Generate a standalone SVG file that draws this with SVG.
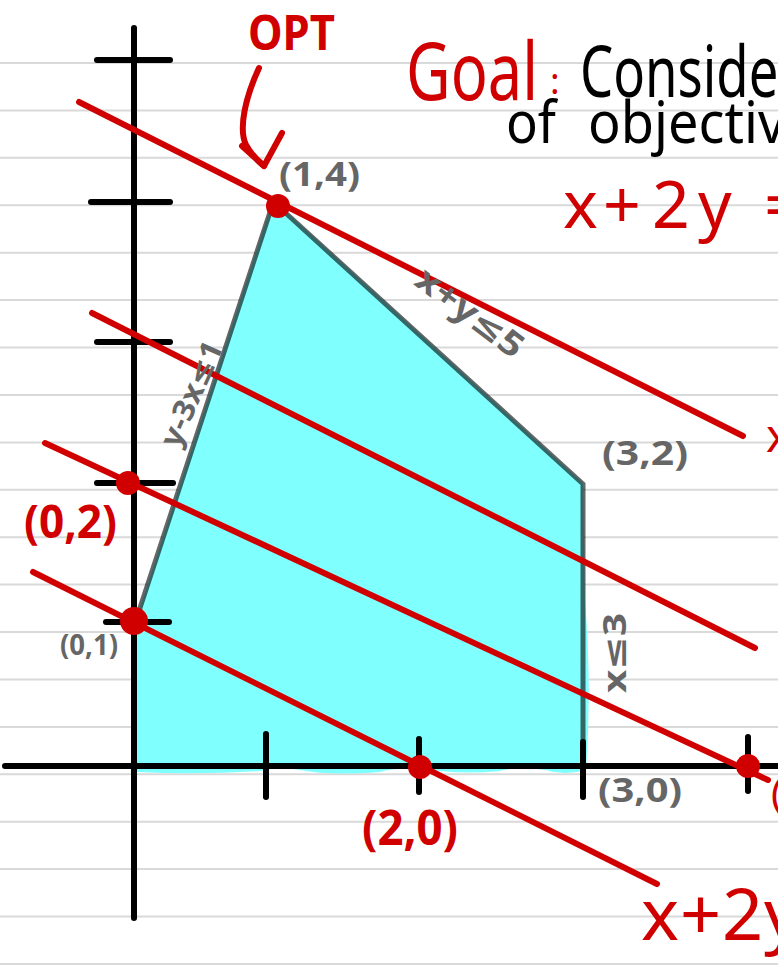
<svg xmlns="http://www.w3.org/2000/svg" width="778" height="980" viewBox="0 0 778 980">
<defs>
<style>
.rule{stroke:#d9d9d9;stroke-width:2}
.axis{stroke:#000;stroke-width:6;stroke-linecap:round;fill:none}
.edge{stroke:#000;stroke-opacity:0.6;stroke-width:5;fill:none;stroke-linejoin:miter}
.obj{stroke:#d10000;stroke-width:6;stroke-linecap:round;stroke-linejoin:round;fill:none}
.dot{fill:#d10000}
.red{fill:#d10000;font-family:"Noto Sans","DejaVu Sans",sans-serif}
.blk{fill:#000;font-family:"Noto Sans","DejaVu Sans",sans-serif}
.gray{fill:#666;font-family:"Noto Sans","DejaVu Sans",sans-serif;font-weight:bold}
</style>
</defs>
<rect width="778" height="980" fill="#fff"/>
<g id="ruled-lines">
<line class="rule" x1="0" y1="63" x2="778" y2="63"/>
<line class="rule" x1="0" y1="110.4" x2="778" y2="110.4"/>
<line class="rule" x1="0" y1="157.8" x2="778" y2="157.8"/>
<line class="rule" x1="0" y1="205.3" x2="778" y2="205.3"/>
<line class="rule" x1="0" y1="252.7" x2="778" y2="252.7"/>
<line class="rule" x1="0" y1="300.1" x2="778" y2="300.1"/>
<line class="rule" x1="0" y1="347.5" x2="778" y2="347.5"/>
<line class="rule" x1="0" y1="394.9" x2="778" y2="394.9"/>
<line class="rule" x1="0" y1="442.4" x2="778" y2="442.4"/>
<line class="rule" x1="0" y1="489.8" x2="778" y2="489.8"/>
<line class="rule" x1="0" y1="537.2" x2="778" y2="537.2"/>
<line class="rule" x1="0" y1="584.6" x2="778" y2="584.6"/>
<line class="rule" x1="0" y1="632" x2="778" y2="632"/>
<line class="rule" x1="0" y1="679.5" x2="778" y2="679.5"/>
<line class="rule" x1="0" y1="726.9" x2="778" y2="726.9"/>
<line class="rule" x1="0" y1="774.3" x2="778" y2="774.3"/>
<line class="rule" x1="0" y1="821.7" x2="778" y2="821.7"/>
<line class="rule" x1="0" y1="869.1" x2="778" y2="869.1"/>
<line class="rule" x1="0" y1="916.6" x2="778" y2="916.6"/>
<line class="rule" x1="0" y1="964" x2="778" y2="964"/>
</g>
<g id="feasible-region">
<path d="M136,620 L271,206 L280,206 L583,483 L585,600 Q592,690 586,770 Q565,776 545,770 Q520,766 500,771 Q470,774 440,771 Q400,766 380,772 Q330,776 300,770 Q280,766 260,771 Q200,775 136,772 Z" fill="#80ffff"/>
<path class="edge" d="M137,617 L272,206 M278,206 L583,484 L583,742"/>
</g>
<g id="axes">
<line class="axis" x1="134" y1="28" x2="134" y2="918"/>
<line class="axis" x1="5" y1="766" x2="778" y2="766"/>
<line class="axis" x1="97" y1="60" x2="170" y2="60"/>
<line class="axis" x1="91" y1="202" x2="170" y2="202"/>
<line class="axis" x1="97" y1="342" x2="170" y2="342"/>
<line class="axis" x1="97" y1="483" x2="173" y2="483"/>
<line class="axis" x1="106" y1="622" x2="169" y2="622"/>
<line class="axis" x1="266" y1="734" x2="266" y2="797"/>
<line class="axis" x1="419" y1="739" x2="419" y2="792"/>
<line class="axis" x1="583" y1="742" x2="583" y2="797"/>
<line class="axis" x1="748" y1="737" x2="748" y2="791"/>
</g>
<g id="connectors">
<line class="obj" x1="79" y1="102" x2="743" y2="436"/>
<line class="obj" x1="92" y1="313" x2="755" y2="648"/>
<line class="obj" x1="45" y1="443" x2="768" y2="780"/>
<line class="obj" x1="33" y1="572" x2="657" y2="884"/>
<path class="obj" d="M259,68 C246,96 238,128 246,145 C251,154 257,160 264,166"/>
<polyline class="obj" points="242,146 264,166 282,133"/>
</g>
<g id="points">
<circle class="dot" cx="278" cy="206" r="12"/>
<circle class="dot" cx="128" cy="483" r="12"/>
<circle class="dot" cx="134" cy="621" r="14"/>
<circle class="dot" cx="420" cy="767" r="12"/>
<circle class="dot" cx="748" cy="766" r="12"/>
</g>
<g id="labels">
<text class="red" x="248" y="50" font-size="48" font-weight="bold" textLength="87" lengthAdjust="spacingAndGlyphs">OPT</text>
<text class="red" x="406" y="100" font-size="80" textLength="132" lengthAdjust="spacingAndGlyphs">Goal</text>
<text class="red" x="550" y="94" font-size="36">:</text>
<text class="blk" x="580" y="97" font-size="72" textLength="220" lengthAdjust="spacingAndGlyphs">Consider</text>
<text class="blk" x="506" y="143" font-size="58" textLength="50" lengthAdjust="spacingAndGlyphs">of</text>
<text class="blk" x="588" y="143" font-size="58" textLength="228" lengthAdjust="spacingAndGlyphs">objective</text>
<text class="red" y="228" font-size="66"><tspan x="563">x</tspan><tspan x="603">+</tspan><tspan x="652">2</tspan><tspan x="698">y</tspan><tspan x="764">=</tspan></text>
<text class="red" x="766" y="452" font-size="46">x</text>
<text class="red" y="940" font-size="72"><tspan x="641">x</tspan><tspan x="680">+</tspan><tspan x="722">2</tspan><tspan x="764">y</tspan></text>
<text class="red" x="771" y="808" font-size="40">(</text>
<text class="gray" x="279" y="186" font-size="34" font-weight="normal" textLength="81" lengthAdjust="spacingAndGlyphs">(1,4)</text>
<text class="gray" x="602" y="465" font-size="34" font-weight="normal" textLength="86" lengthAdjust="spacingAndGlyphs">(3,2)</text>
<text class="gray" x="598" y="802" font-size="34" font-weight="normal" textLength="84" lengthAdjust="spacingAndGlyphs">(3,0)</text>
<text class="gray" x="60" y="655" font-size="28" textLength="58" lengthAdjust="spacingAndGlyphs">(0,1)</text>
<text class="red" x="24" y="538" font-size="46" font-weight="bold" textLength="93" lengthAdjust="spacingAndGlyphs">(0,2)</text>
<text class="red" x="362" y="845" font-size="48" font-weight="bold" textLength="96" lengthAdjust="spacingAndGlyphs">(2,0)</text>
<text class="gray" font-size="34" text-anchor="middle" transform="translate(463,322) rotate(37)" textLength="126" lengthAdjust="spacingAndGlyphs">x+y≤5</text>
<text class="gray" font-size="30" text-anchor="middle" transform="translate(201,398) rotate(-66)" textLength="112" lengthAdjust="spacingAndGlyphs">y-3x≤1</text>
<text class="gray" font-size="32" text-anchor="middle" transform="translate(626,653) rotate(-90)" textLength="80" lengthAdjust="spacingAndGlyphs">x≤3</text>
</g>
</svg>
